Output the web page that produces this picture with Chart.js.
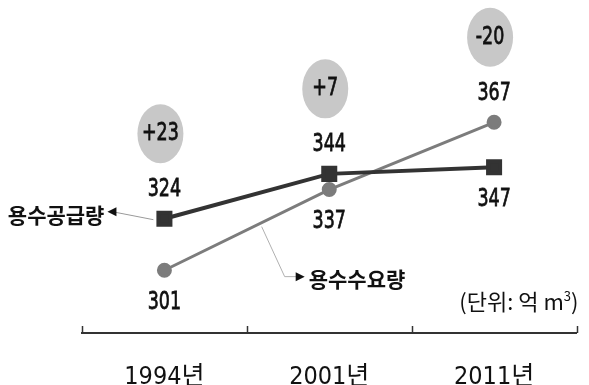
<!DOCTYPE html>
<html>
<head>
<meta charset="utf-8">
<script src="https://cdn.jsdelivr.net/npm/chart.js@4.4.0/dist/chart.umd.min.js"></script>
<style>
  html, body { margin: 0; padding: 0; background: #fff; }
  #wrap { width: 589px; height: 385px; }
</style>
</head>
<body>
<div id="wrap"><canvas id="waterChart"></canvas></div>
<script>
// values (억 m³)
const years = ["1994년", "2001년", "2011년"];
const supply = [324, 344, 347];
const demand = [301, 337, 367];
const supplyName = "용수공급량";
const demandName = "용수수요량";
const unitMain = "(단위: 억 m";
const unitSup = "3";
const unitEnd = ")";

const TEXT = "#111111";
const NUM_FONT = "25px 'DejaVu Sans'";
const KO_FONT = "bold 21px 'Noto Sans CJK KR'";
const UNIT_FONT = "22px 'Noto Sans CJK KR'";

// canvas text squeezed sideways, the original uses a narrow gothic face
function narrowText(ctx, text, x, y, font, squeeze, align, heavy) {
  ctx.save();
  ctx.font = font;
  ctx.fillStyle = TEXT;
  ctx.textAlign = align || "center";
  ctx.textBaseline = "middle";
  ctx.translate(x, y);
  ctx.scale(squeeze, 1);
  ctx.fillText(text, 0, 0);
  if (heavy) {
    ctx.strokeStyle = TEXT;
    ctx.lineWidth = heavy;
    ctx.strokeText(text, 0, 0);
  }
  ctx.restore();
}

function arrowHead(ctx, x, y, dir) {
  ctx.beginPath();
  ctx.moveTo(x, y);
  ctx.lineTo(x - dir * 9, y - 4.5);
  ctx.lineTo(x - dir * 9, y + 4.5);
  ctx.closePath();
  ctx.fillStyle = "#111";
  ctx.fill();
}

const axisTicks = {
  id: "axisTicks",
  afterDraw(chart) {
    const { ctx } = chart;
    const x = chart.scales.x;
    const half = (x.getPixelForValue(1) - x.getPixelForValue(0)) / 2;
    const y = x.top;
    ctx.save();
    ctx.strokeStyle = "#333";
    ctx.lineWidth = 1.5;
    for (let i = 0; i <= years.length; i++) {
      const px = Math.round(x.getPixelForValue(0) - half + i * 2 * half) + 0.5;
      ctx.beginPath();
      ctx.moveTo(px, y);
      ctx.lineTo(px, y - 7);
      ctx.stroke();
    }
    ctx.restore();
  }
};

const annotations = {
  id: "annotations",
  afterDatasetsDraw(chart) {
    const { ctx } = chart;
    const sMeta = chart.getDatasetMeta(0).data;
    const dMeta = chart.getDatasetMeta(1).data;

    years.forEach((yr, i) => {
      const s = sMeta[i], d = dMeta[i];
      const sUp = supply[i] >= demand[i];
      const top = sUp ? s : d;
      const bottom = sUp ? d : s;
      const topVal = sUp ? supply[i] : demand[i];
      const bottomVal = sUp ? demand[i] : supply[i];

      narrowText(ctx, String(topVal), top.x, top.y - 29, NUM_FONT, 0.7, "center", 0.8);
      narrowText(ctx, String(bottomVal), bottom.x, bottom.y + 32, NUM_FONT, 0.7, "center", 0.8);

      // gap bubble
      const gap = supply[i] - demand[i];
      const cx = top.x - 4, cy = top.y - 85;
      ctx.save();
      ctx.beginPath();
      ctx.ellipse(cx, cy, 23, 29.5, 0, 0, Math.PI * 2);
      ctx.fillStyle = "#c8c8c8";
      ctx.fill();
      ctx.restore();
      narrowText(ctx, (gap > 0 ? "+" : "") + gap, cx, cy, NUM_FONT, 0.7, "center", 0.8);
    });

    // supply label with arrow
    const s0 = sMeta[0];
    ctx.save();
    ctx.strokeStyle = "#9a9a9a";
    ctx.lineWidth = 1;
    ctx.beginPath();
    ctx.moveTo(s0.x - 11, s0.y + 1);
    ctx.lineTo(s0.x - 52, s0.y - 7);
    ctx.stroke();
    arrowHead(ctx, s0.x - 57, s0.y - 7, -1);
    ctx.restore();
    narrowText(ctx, supplyName, s0.x - 60, s0.y - 4, KO_FONT, 1.0, "right");

    // demand label with elbow connector
    const d0 = dMeta[0], d1 = dMeta[1];
    const t = 0.59;
    const ax = d0.x + (d1.x - d0.x) * t;
    const ay = d0.y + (d1.y - d0.y) * t + 4;
    ctx.save();
    ctx.strokeStyle = "#b0b0b0";
    ctx.lineWidth = 1;
    ctx.beginPath();
    ctx.moveTo(ax, ay);
    ctx.lineTo(ax + 23, ay + 50);
    ctx.lineTo(ax + 35, ay + 50);
    ctx.stroke();
    arrowHead(ctx, ax + 43, ay + 50, 1);
    ctx.restore();
    narrowText(ctx, demandName, ax + 47, ay + 52, KO_FONT, 1.0, "left");

    // unit, with a real superscript 3
    const xs = chart.scales.x;
    const uy = xs.top - 31;
    ctx.save();
    ctx.font = UNIT_FONT;
    const wEnd = ctx.measureText(unitEnd).width;
    ctx.font = "13px 'Noto Sans CJK KR'";
    const wSup = ctx.measureText(unitSup).width;
    ctx.restore();
    let rx = xs.right + 2;
    narrowText(ctx, unitEnd, rx, uy, UNIT_FONT, 1.0, "right");
    rx -= wEnd;
    narrowText(ctx, unitSup, rx, uy - 6, "13px 'Noto Sans CJK KR'", 1.0, "right");
    rx -= wSup;
    narrowText(ctx, unitMain, rx, uy, UNIT_FONT, 1.0, "right");
  }
};

new Chart(document.getElementById("waterChart"), {
  type: "line",
  data: {
    labels: years,
    datasets: [
      {
        label: supplyName,
        data: supply,
        borderColor: "#333333",
        backgroundColor: "#333333",
        borderWidth: 4,
        pointStyle: "rect",
        pointRadius: 8.5,
        pointHoverRadius: 8.5,
        clip: false
      },
      {
        label: demandName,
        data: demand,
        borderColor: "#7c7c7c",
        backgroundColor: "#7c7c7c",
        borderWidth: 3,
        pointStyle: "circle",
        pointRadius: 6,
        pointHoverRadius: 6,
        clip: false
      }
    ]
  },
  options: {
    responsive: true,
    maintainAspectRatio: false,
    animation: false,
    events: [],
    layout: { padding: { left: 82, right: 5, top: 0, bottom: 0 } },
    plugins: {
      legend: { display: false },
      tooltip: { enabled: false }
    },
    scales: {
      x: {
        offset: true,
        grid: { display: false, drawTicks: false },
        border: { display: true, color: "#333", width: 2 },
        afterFit(scale) { scale.height = 52; },
        ticks: {
          color: TEXT,
          padding: 29,
          font: { family: "'Liberation Sans Narrow', 'DejaVu Sans Condensed', 'Noto Sans CJK KR'", size: 25 }
        }
      },
      y: {
        display: false,
        min: 273,
        max: 416
      }
    }
  },
  plugins: [axisTicks, annotations]
});
</script>
</body>
</html>
